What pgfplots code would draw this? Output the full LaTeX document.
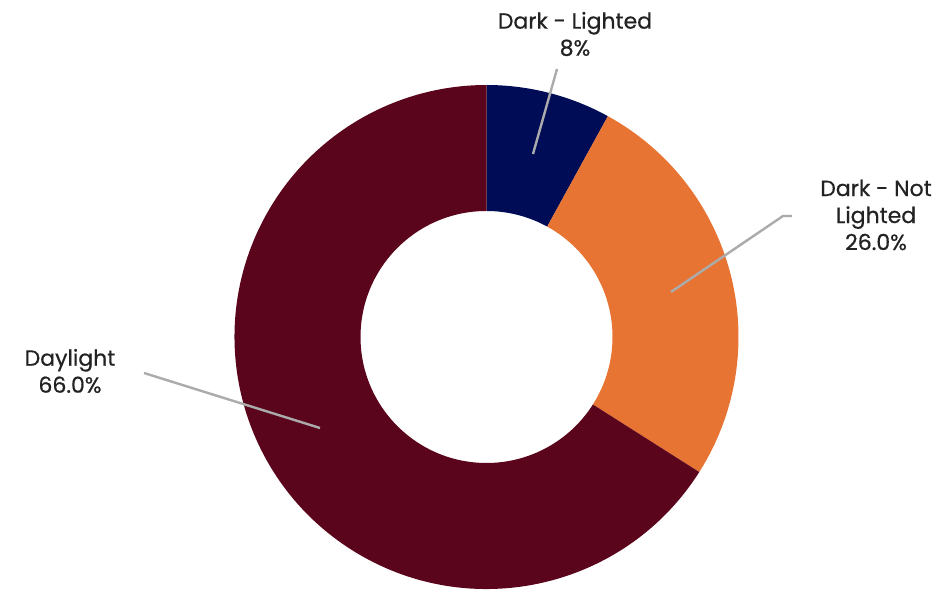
\documentclass[border=0pt]{standalone}
\usepackage{pgfplots}
\pgfplotsset{compat=1.18}
\usepackage{pgfplotstable}
\usepackage{fontspec}
\setmainfont{Poppins}[FakeBold=0.6]
\usetikzlibrary{calc}
\definecolor{navyc}{HTML}{000C56}
\definecolor{orangec}{HTML}{E87434}
\definecolor{maroonc}{HTML}{5A051C}
\definecolor{leader}{HTML}{ABABAB}
\definecolor{txt}{HTML}{222222}
\pgfplotstableread{
label value
DarkLighted 8
DarkNotLighted 26
Daylight 66
}\datatable
\begin{document}
\begin{tikzpicture}
\pgfplotstablegetelem{0}{value}\of\datatable\let\va\pgfplotsretval
\pgfplotstablegetelem{1}{value}\of\datatable\let\vb\pgfplotsretval
\pgfplotstablegetelem{2}{value}\of\datatable\let\vc\pgfplotsretval
\pgfmathsetmacro{\aA}{90}
\pgfmathsetmacro{\aB}{90-3.6*\va}
\pgfmathsetmacro{\aC}{\aB-3.6*\vb}
\pgfmathsetmacro{\aD}{\aC-3.6*\vc}
\newcommand{\wedgeseg}[3]{%
  \fill[#3] ($(axis cs:486.5,254)+(#1:252pt)$) arc[start angle=#1,end angle=#2,radius=252pt]
    -- ($(axis cs:486.5,254)+(#2:126pt)$) arc[start angle=#2,end angle=#1,radius=126pt] -- cycle;}
\begin{axis}[x=1pt,y=1pt,xmin=0,xmax=944,ymin=0,ymax=591,hide axis,clip=false,
  scale only axis]
\coordinate (bl) at (axis cs:0,0);
\coordinate (tr) at (axis cs:944,591);
\wedgeseg{\aA}{\aB}{navyc}
\wedgeseg{\aB}{\aC}{orangec}
\wedgeseg{\aC}{\aD}{maroonc}
\draw[leader,line width=2.4pt] (axis cs:557,522) -- (axis cs:533,437);
\draw[leader,line width=2.4pt] (axis cs:792,375) -- (axis cs:783,375) -- (axis cs:671,299);
\draw[leader,line width=2.4pt] (axis cs:144,218) -- (axis cs:320,163);
\node[txt,align=center,font=\fontsize{22}{27}\selectfont] at (axis cs:575,557) {Dark - Lighted\\8\%};
\node[txt,align=center,font=\fontsize{22}{27}\selectfont] at (axis cs:876,376) {Dark - Not\\Lighted\\26.0\%};
\node[txt,align=center,font=\fontsize{22}{27}\selectfont] at (axis cs:70,220) {Daylight\\66.0\%};
\end{axis}
\pgfresetboundingbox
\path (bl) rectangle (tr);
\end{tikzpicture}
\end{document}
